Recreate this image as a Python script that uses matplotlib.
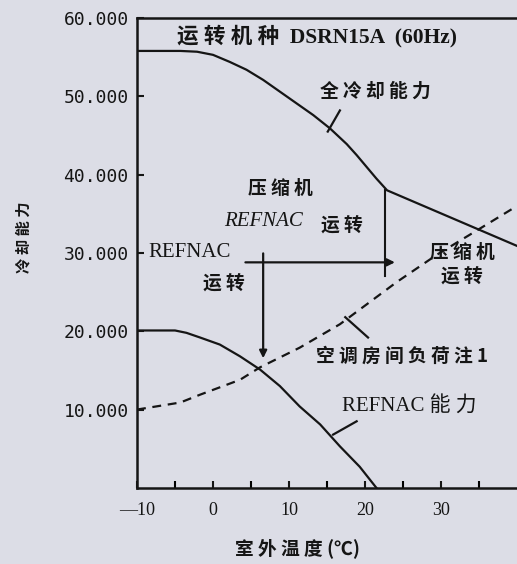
import numpy as np
import matplotlib.pyplot as plt

plt.rcParams['font.family'] = ['Noto Sans CJK SC', 'DejaVu Sans']

# 全冷却能力
full_temp = [-10, -4.3, -2.1, 0, 2.2, 4.4, 6.6, 8.8, 11.0, 13.2, 15.4, 17.6,
             18.9, 20.2, 21.5, 22.9, 40]
full_cap = [55.8, 55.8, 55.7, 55.3, 54.4, 53.4, 52.1, 50.6, 49.1, 47.6, 45.9,
            43.9, 42.5, 41.0, 39.5, 38.0, 30.9]

# REFNAC 能力
ref_temp = [-10, -5, -3.5, -1.7, 0.9, 3.55, 6.2, 8.8, 11.4, 14.1, 16.7, 19.3, 21.5]
ref_cap = [20.1, 20.1, 19.8, 19.2, 18.3, 16.8, 15.1, 13.0, 10.4, 8.1, 5.3, 2.7, 0.0]

# 空调房间负荷
load_temp = [-10, -4.3, -1.7, 3.55, 6.2, 11.4, 16.7, 24.2, 29.5, 35.1, 40]
load_cap = [10.0, 10.9, 11.9, 13.8, 15.4, 17.9, 20.9, 26.3, 29.8, 33.1, 36.0]

# 运转切换点
switch_temp = 22.6
switch_top = 38.0
switch_bottom = 27.1
h_arrow_y = 28.8
h_arrow_x = [3.9, 24.3]
v_arrow_x = 6.6
v_arrow_y = [30.3, 16.2]

y_ticks = [10, 20, 30, 40, 50, 60]
y_labels = ['10.000', '20.000', '30.000', '40.000', '50.000', '60.000']
x_ticks = [-10, 0, 10, 20, 30]
x_labels = ['—10', '0', '10', '20', '30']

bg = '#dcdde6'
ink = '#151515'

fig = plt.figure(figsize=(5.17, 5.64), dpi=100, facecolor=bg)
ax = fig.add_axes([0.265, 0.135, 0.735, 0.833], facecolor=bg)

ax.plot(full_temp, full_cap, color=ink, lw=1.6)
ax.plot(ref_temp, ref_cap, color=ink, lw=1.6)
ax.plot(load_temp, load_cap, color=ink, lw=1.6, linestyle=(0, (4, 3)))

ax.plot([switch_temp, switch_temp], [switch_top, switch_bottom], color=ink, lw=1.5)
ax.annotate('', xy=(h_arrow_x[1], h_arrow_y), xytext=(h_arrow_x[0], h_arrow_y),
            arrowprops=dict(arrowstyle='-|>', color=ink, lw=1.6, mutation_scale=11))
ax.annotate('', xy=(v_arrow_x, v_arrow_y[1]), xytext=(v_arrow_x, v_arrow_y[0]),
            arrowprops=dict(arrowstyle='-|>', color=ink, lw=1.6, mutation_scale=11))

# 引出线
ax.plot([16.7, 15.1], [48.2, 45.5], color=ink, lw=1.6)
ax.plot([17.4, 20.4], [21.8, 19.2], color=ink, lw=1.6)
ax.plot([15.8, 18.9], [6.8, 8.5], color=ink, lw=1.6)

# 文字
txt = dict(color=ink, fontweight='bold', fontsize=13.5)
serif = dict(color=ink, family='Liberation Serif', fontsize=15)
ax.text(-4.7, 57.7, '运 转 机 种  DSRN15A  (60Hz)', ha='left', va='center',
        family=['Liberation Serif', 'Noto Sans CJK SC'], color=ink,
        fontsize=15.5, fontweight='bold')
ax.text(21.3, 50.6, '全 冷 却 能 力', ha='center', va='center', **txt)
ax.text(8.8, 38.2, '压 缩 机', ha='center', va='center', **txt)
ax.text(6.7, 34.0, 'REFNAC', ha='center', va='center', style='italic', **serif)
ax.text(17.0, 33.4, '运 转', ha='center', va='center', **txt)
ax.text(-3.1, 30.1, 'REFNAC', ha='center', va='center', **serif)
ax.text(1.45, 26.0, '运 转', ha='center', va='center', **txt)
ax.text(32.8, 30.1, '压 缩 机', ha='center', va='center', **txt)
ax.text(32.8, 26.9, '运 转', ha='center', va='center', **txt)
ax.text(13.6, 16.8, '空 调 房 间 负 荷 注 1', ha='left', va='center', **txt)
ax.text(17.0, 10.3, 'REFNAC 能 力', ha='left', va='center',
        family=['Liberation Serif', 'Noto Sans CJK SC'], color=ink, fontsize=15)

ax.set_xlim(-10, 40)
ax.set_ylim(0, 60)
ax.set_xticks(x_ticks)
ax.set_xticklabels(x_labels, family='Liberation Serif', fontsize=13)
ax.set_xticks(np.arange(-5, 40, 5), minor=True)
ax.set_yticks(y_ticks)
ax.set_yticklabels(y_labels, family='DejaVu Sans Mono', fontsize=13)
ax.tick_params(direction='in', length=5, width=1.5, color=ink, labelcolor=ink)
ax.tick_params(axis='x', which='both', direction='in', length=5, width=1.5, pad=10)
ax.tick_params(axis='y', pad=6)
ax.tick_params(axis='x', which='minor', labelbottom=False)
for s in ['left', 'bottom', 'top']:
    ax.spines[s].set_linewidth(1.8)
    ax.spines[s].set_color(ink)
ax.spines['right'].set_visible(False)

fig.text(0.575, 0.028, '室 外 温 度 (℃)', ha='center', va='center', **txt)
fig.text(0.045, 0.58, '冷 却 能 力', ha='center', va='center', rotation=90,
         color=ink, fontweight='bold', fontsize=11)

fig.savefig('out.png', dpi=100, facecolor=bg)
